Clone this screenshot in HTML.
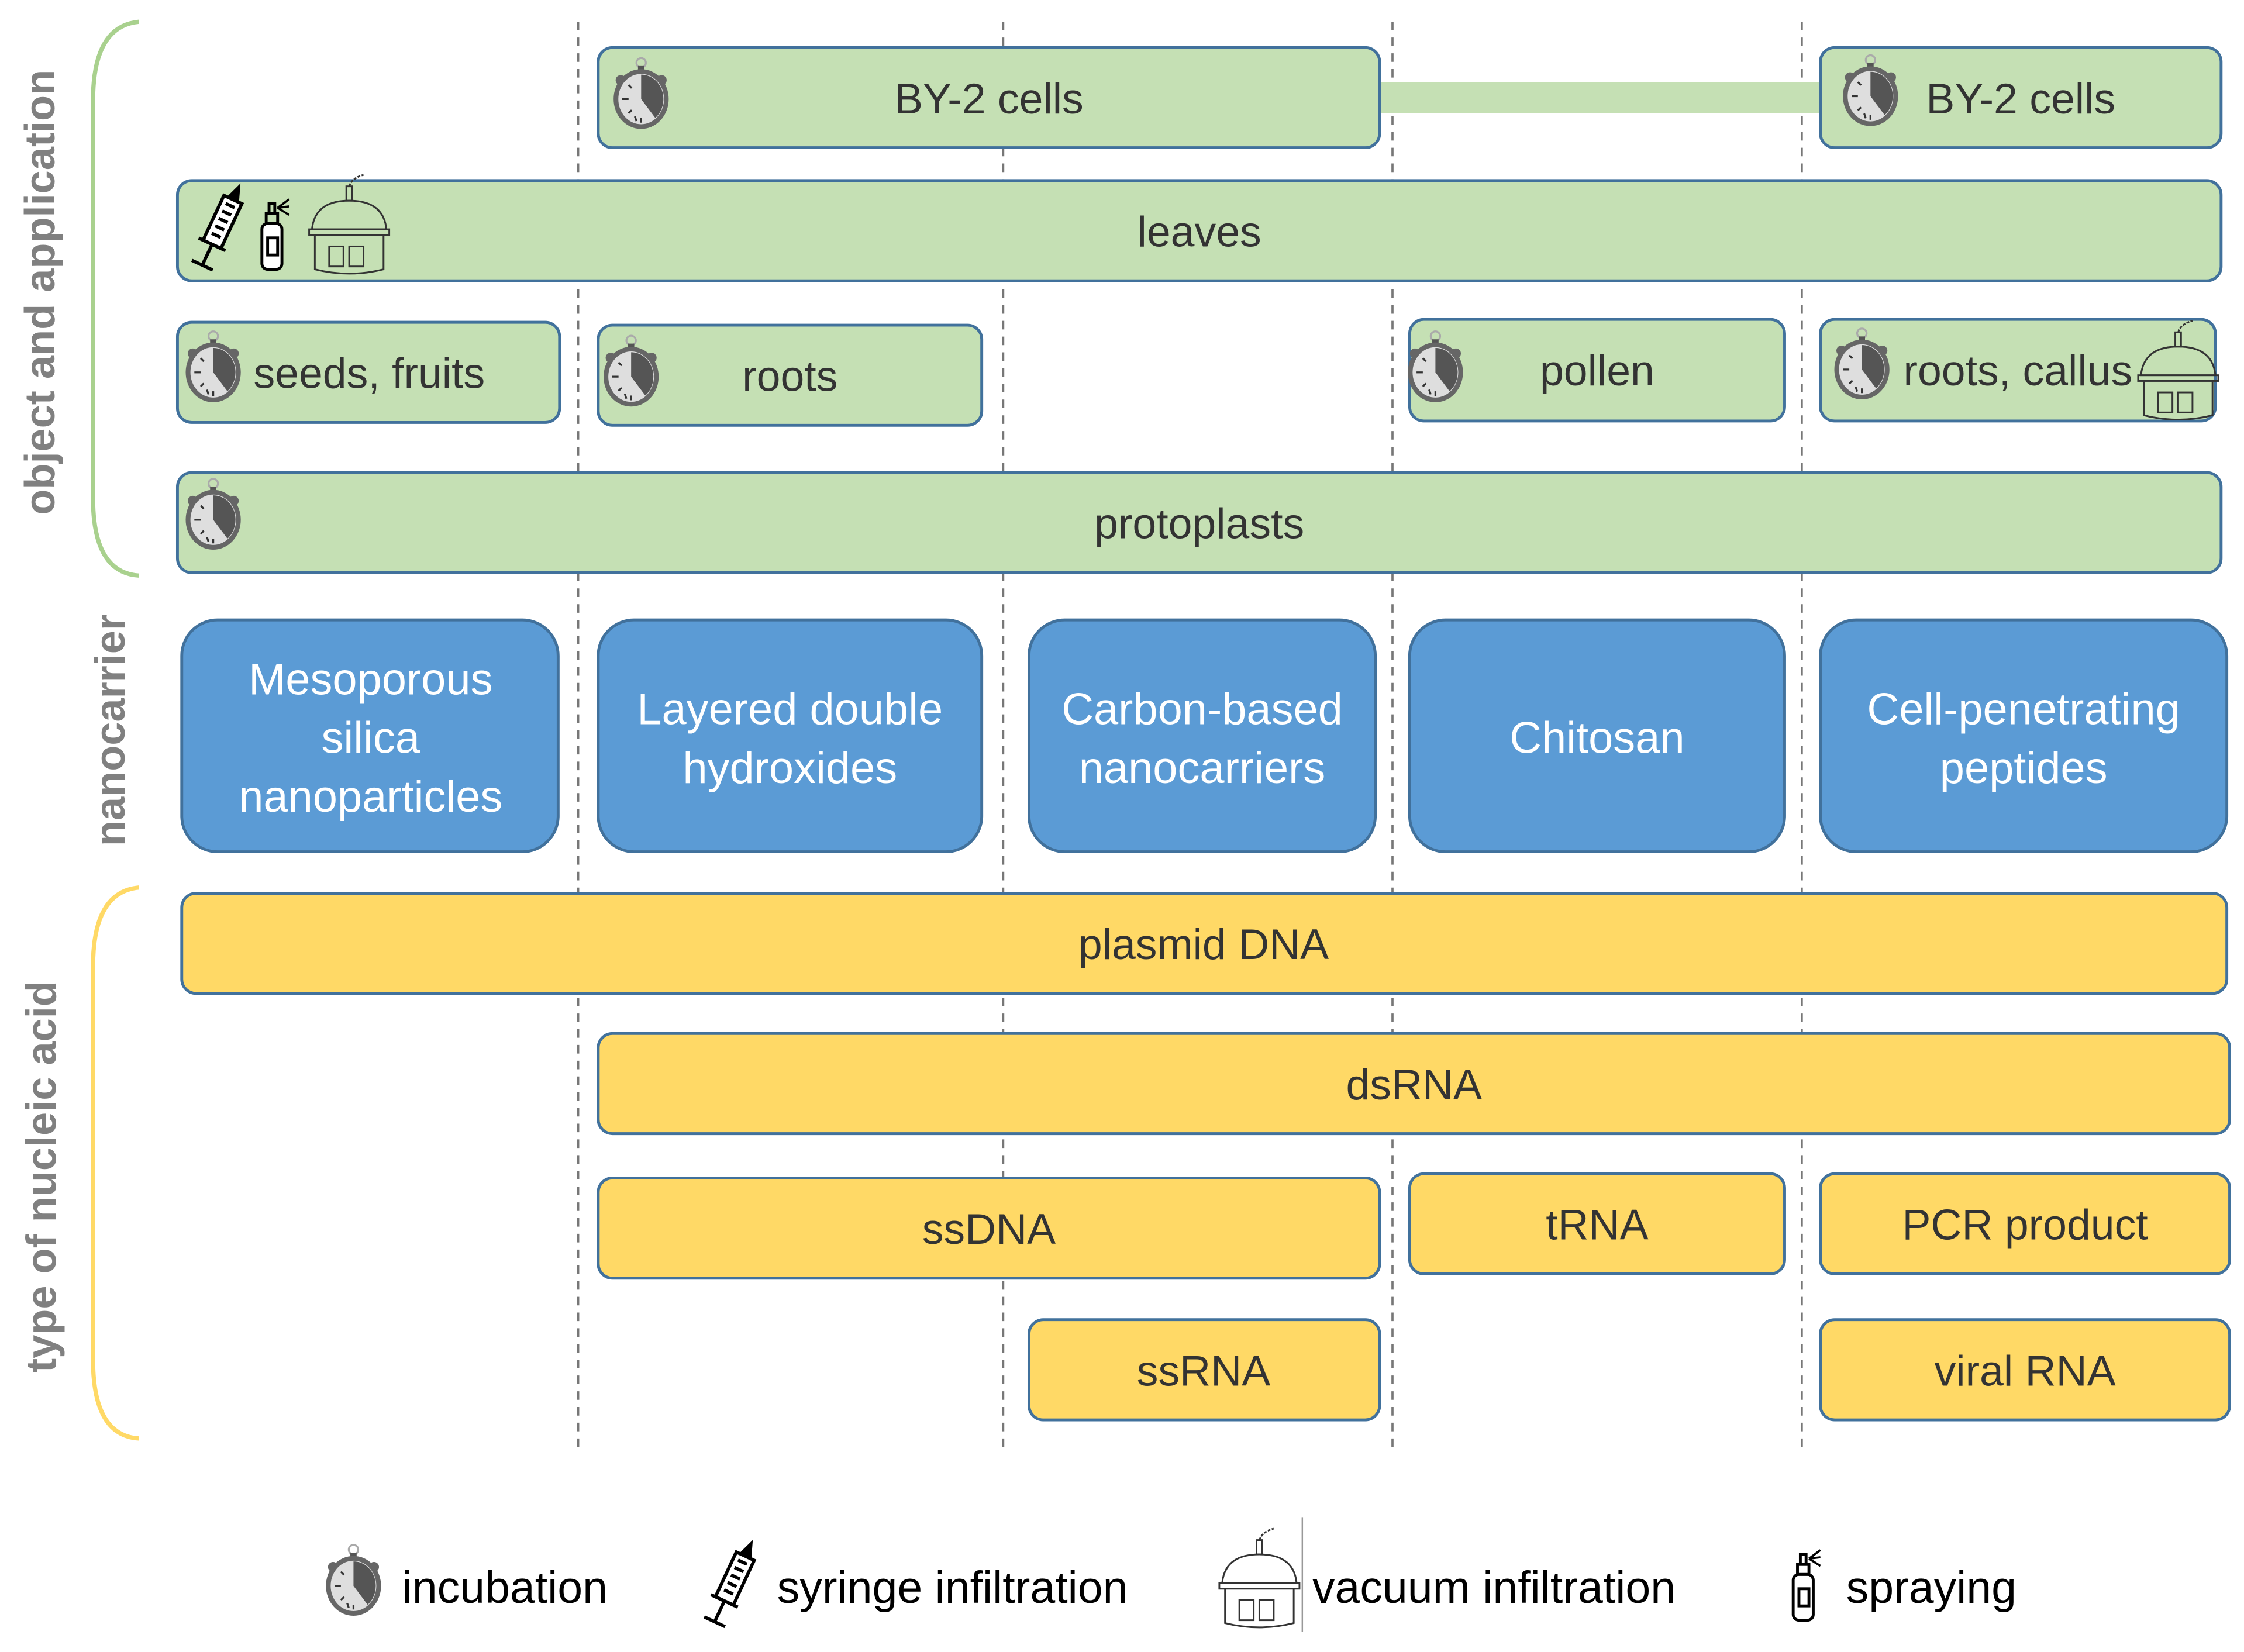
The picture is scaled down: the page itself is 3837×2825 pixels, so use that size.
<!DOCTYPE html>
<html><head><meta charset="utf-8"><style>
html,body{margin:0;padding:0;background:#fff;}
svg{display:block;}
text{font-family:"Liberation Sans",sans-serif;}
</style></head><body>
<svg width="3837" height="2825" viewBox="0 0 1568 1154" xmlns="http://www.w3.org/2000/svg">
<defs>
<g id="sw0">
 <circle cx="0" cy="-23" r="3" fill="none" stroke="#aaa" stroke-width="1.2"/>
 <rect x="-2" y="-21" width="4" height="6" fill="#555"/>
 <circle cx="-13" cy="-12" r="3.2" fill="#666"/>
 <circle cx="13" cy="-12" r="3.2" fill="#666"/>
 <ellipse cx="0" cy="0" rx="16" ry="17.5" fill="#dedede" stroke="#666" stroke-width="3"/>
 <path d="M0,0 L0,-15.5 A14,15.5 0 0 1 9,12 Z" fill="#555"/>
 <g stroke="#333" stroke-width="1.2">
  <line x1="-12" y1="0" x2="-8" y2="0"/><line x1="0" y1="12" x2="0" y2="15"/>
  <line x1="-8" y1="-9" x2="-6" y2="-7"/><line x1="-8" y1="9" x2="-6" y2="7"/>
  <line x1="-4" y1="11" x2="-3" y2="14"/>
 </g>
</g>
<g id="sw"><use href="#sw0" transform="scale(1.1)"/></g>
<g id="syr" fill="none" stroke="#000" stroke-width="2">
 <g transform="rotate(25) scale(1.15)">
  <rect x="-6" y="-18" width="12" height="30" fill="#fff"/>
  <line x1="-3" y1="-14" x2="3" y2="-14"/><line x1="-3" y1="-9" x2="3" y2="-9"/><line x1="-3" y1="-4" x2="3" y2="-4"/><line x1="-3" y1="1" x2="3" y2="1"/><line x1="-3" y1="6" x2="3" y2="6"/>
  <path d="M-3,-18 L0,-26 L3,-18" fill="#000"/>
  <line x1="-9" y1="12" x2="9" y2="12"/>
  <line x1="0" y1="12" x2="0" y2="26"/>
  <line x1="-7" y1="26" x2="7" y2="26"/>
 </g>
</g>
<g id="spr" fill="none" stroke="#000" stroke-width="2">
 <rect x="-7" y="-6" width="14" height="32" rx="4" fill="#fff"/>
 <rect x="-3" y="4" width="7" height="12"/>
 <rect x="-4" y="-13" width="8" height="7"/>
 <rect x="-2" y="-20" width="4" height="7"/>
 <path d="M4,-17 L12,-23 M4,-17 L12,-18 M4,-17 L12,-12" stroke-width="1.5"/>
</g>
<g id="vac" fill="none" stroke="#333" stroke-width="1.2">
 <path d="M0,-30 Q2,-36 10,-38" stroke-dasharray="2 1"/>
 <rect x="-2" y="-30" width="4" height="10"/>
 <path d="M-26,0 Q-24,-20 0,-20 Q24,-20 26,0 Z"/>
 <rect x="-28" y="0" width="56" height="4"/>
 <path d="M-24,4 L-24,28 Q0,34 24,28 L24,4"/>
 <rect x="-14" y="12" width="10" height="14"/><rect x="0" y="12" width="10" height="14"/>
</g>
</defs>

<g stroke="#777" stroke-width="1.5" stroke-dasharray="6 5">
 <line x1="404" y1="15" x2="404" y2="1012"/>
 <line x1="701" y1="15" x2="701" y2="1012"/>
 <line x1="973" y1="15" x2="973" y2="1012"/>
 <line x1="1259" y1="15" x2="1259" y2="1012"/>
</g>

<path d="M97,15 Q65,18 65,70 L65,348 Q65,400 97,402" fill="none" stroke="#a9d18e" stroke-width="3"/>
<path d="M97,620 Q65,623 65,675 L65,950 Q65,1003 97,1005" fill="none" stroke="#ffd966" stroke-width="3"/>
<g fill="#808080" font-weight="bold" font-size="29.5" text-anchor="middle">
 <text transform="translate(38,204) rotate(-90)">object and application</text>
 <text transform="translate(87,510) rotate(-90)">nanocarrier</text>
 <text transform="translate(39,822) rotate(-90)">type of nucleic acid</text>
</g>

<g fill="#c5e0b4" stroke="#41719c" stroke-width="2">
 <rect x="965" y="57" width="307" height="22" stroke="none"/>
 <rect x="418" y="33" width="546" height="70" rx="10"/>
 <rect x="1272" y="33" width="280" height="70" rx="10"/>
 <rect x="124" y="126" width="1428" height="70" rx="10"/>
 <rect x="124" y="225" width="267" height="70" rx="10"/>
 <rect x="418" y="227" width="268" height="70" rx="10"/>
 <rect x="985" y="223" width="262" height="71" rx="10"/>
 <rect x="1272" y="223" width="276" height="71" rx="10"/>
 <rect x="124" y="330" width="1428" height="70" rx="10"/>
</g>
<g fill="#333" font-size="30" text-anchor="middle">
 <text x="691" y="79">BY-2 cells</text>
 <text x="1412" y="79">BY-2 cells</text>
 <text x="838" y="172">leaves</text>
 <text x="258" y="271">seeds, fruits</text>
 <text x="552" y="273">roots</text>
 <text x="1116" y="269">pollen</text>
 <text x="1410" y="269">roots, callus</text>
 <text x="838" y="376">protoplasts</text>
</g>
<use href="#sw" x="448" y="69"/>
<use href="#sw" x="1307" y="67"/>
<use href="#sw" x="149" y="260"/>
<use href="#sw" x="441" y="263"/>
<use href="#sw" x="1003" y="260"/>
<use href="#sw" x="1301" y="258"/>
<use href="#sw" x="149" y="363"/>
<use href="#syr" x="154" y="158"/>
<use href="#spr" x="190" y="162"/>
<use href="#vac" x="244" y="160"/>
<use href="#vac" x="1522" y="262"/>

<g fill="#5b9bd5" stroke="#41719c" stroke-width="2">
 <rect x="127" y="433" width="263" height="162" rx="25"/>
 <rect x="418" y="433" width="268" height="162" rx="25"/>
 <rect x="719" y="433" width="242" height="162" rx="25"/>
 <rect x="985" y="433" width="262" height="162" rx="25"/>
 <rect x="1272" y="433" width="284" height="162" rx="25"/>
</g>
<g fill="#fff" font-size="31" text-anchor="middle">
 <text x="259" y="485">Mesoporous</text>
 <text x="259" y="526">silica</text>
 <text x="259" y="567">nanoparticles</text>
 <text x="552" y="506">Layered double</text>
 <text x="552" y="547">hydroxides</text>
 <text x="840" y="506">Carbon-based</text>
 <text x="840" y="547">nanocarriers</text>
 <text x="1116" y="526">Chitosan</text>
 <text x="1414" y="506">Cell-penetrating</text>
 <text x="1414" y="547">peptides</text>
</g>

<g fill="#ffd966" stroke="#41719c" stroke-width="2">
 <rect x="127" y="624" width="1429" height="70" rx="10"/>
 <rect x="418" y="722" width="1140" height="70" rx="10"/>
 <rect x="418" y="823" width="546" height="70" rx="10"/>
 <rect x="985" y="820" width="262" height="70" rx="10"/>
 <rect x="1272" y="820" width="286" height="70" rx="10"/>
 <rect x="719" y="922" width="245" height="70" rx="10"/>
 <rect x="1272" y="922" width="286" height="70" rx="10"/>
</g>
<g fill="#333" font-size="30" text-anchor="middle">
 <text x="841" y="670">plasmid DNA</text>
 <text x="988" y="768">dsRNA</text>
 <text x="691" y="869">ssDNA</text>
 <text x="1116" y="866">tRNA</text>
 <text x="1415" y="866">PCR product</text>
 <text x="841" y="968">ssRNA</text>
 <text x="1415" y="968">viral RNA</text>
</g>

<use href="#sw" x="247" y="1108"/>
<use href="#syr" x="512" y="1106"/>
<use href="#vac" x="880" y="1106"/>
<line x1="910" y1="1060" x2="910" y2="1140" stroke="#999" stroke-width="1"/>
<use href="#spr" x="1260" y="1106"/>
<g fill="#000" font-size="31.5">
 <text x="281" y="1120">incubation</text>
 <text x="543" y="1120">syringe infiltration</text>
 <text x="917" y="1120">vacuum infiltration</text>
 <text x="1290" y="1120">spraying</text>
</g>
</svg>
</body></html>
